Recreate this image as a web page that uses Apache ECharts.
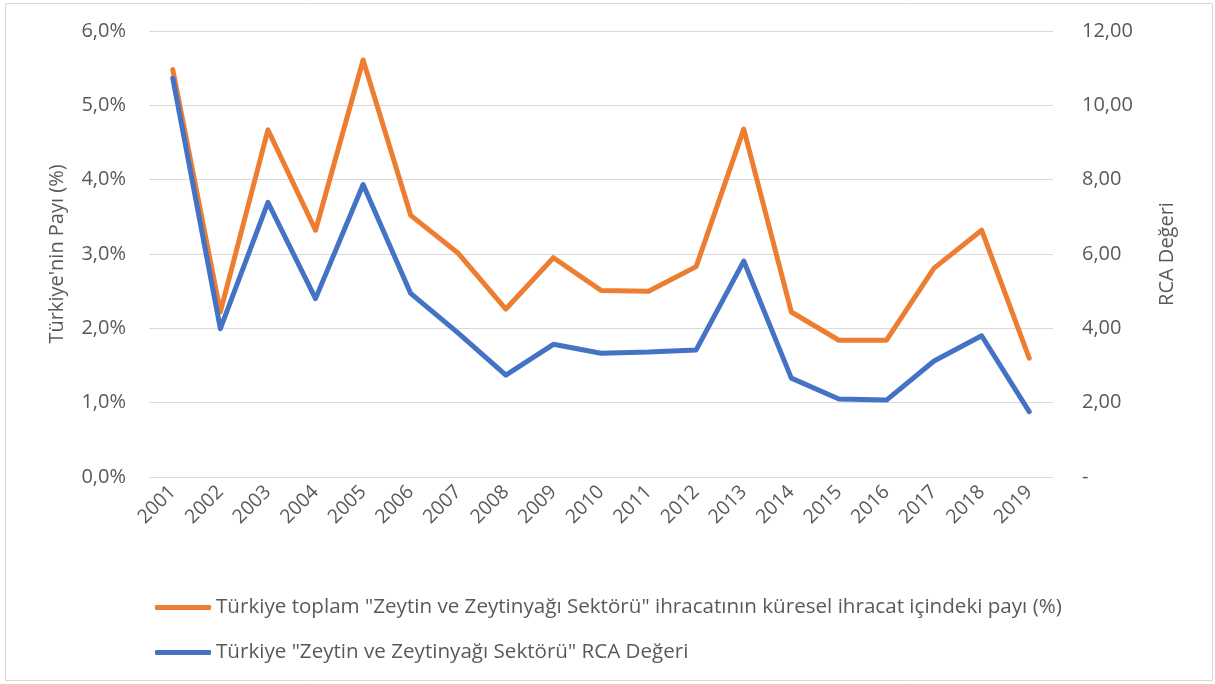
<!DOCTYPE html>
<html>
<head>
<meta charset="utf-8">
<script src="https://cdn.jsdelivr.net/npm/echarts@6/dist/echarts.min.js"></script>
<style>html,body{margin:0;padding:0;background:#fff}#c{width:1215px;height:684px}</style>
</head>
<body>
<div id="c"></div>
<script>
const years = ['2001','2002','2003','2004','2005','2006','2007','2008','2009','2010','2011','2012','2013','2014','2015','2016','2017','2018','2019'];
const sharePct = [5.48,2.22,4.67,3.32,5.61,3.52,3.01,2.26,2.95,2.51,2.50,2.83,4.68,2.22,1.84,1.84,2.81,3.32,1.60];
const rcaValue = [10.73,3.99,7.39,4.80,7.87,4.94,3.87,2.74,3.57,3.33,3.36,3.42,5.81,2.66,2.10,2.07,3.12,3.80,1.76];
const seriesNames = ['Türkiye toplam "Zeytin ve Zeytinyağı Sektörü" ihracatının küresel ihracat içindeki payı (%)', 'Türkiye "Zeytin ve Zeytinyağı Sektörü" RCA Değeri'];
const leftAxisName = "Türkiye'nin Payı (%)";
const rightAxisName = 'RCA Değeri';

const FONT = 'Open Sans';
const TXT = '#595959';
const chart = echarts.init(document.getElementById('c'), null, {renderer: 'canvas'});
chart.setOption({
  animation: false,
  textStyle: {fontFamily: FONT},
  graphic: [{type: 'rect', shape: {x: 5.5, y: 3.5, width: 1207, height: 677}, style: {fill: 'none', stroke: '#d9d9d9', lineWidth: 1}, silent: true}],
  grid: {left: 149, right: 162, top: 31, bottom: 207, containLabel: false},
  legend: {
    orient: 'vertical', left: 150, top: 592, itemGap: 24,
    itemWidth: 56, itemHeight: 5, icon: 'roundRect',
    textStyle: {fontSize: 20.6, color: TXT, fontFamily: FONT},
    data: seriesNames
  },
  xAxis: {
    type: 'category', data: years, boundaryGap: true,
    axisLine: {show: false}, axisTick: {show: false},
    axisLabel: {rotate: 45, fontSize: 19.5, color: TXT, margin: 12, interval: 0, fontFamily: FONT}
  },
  yAxis: [{
    type: 'value', min: 0, max: 6, interval: 1, position: 'left',
    name: leftAxisName, nameLocation: 'middle', nameGap: 82, nameRotate: 90,
    nameTextStyle: {fontSize: 20, color: TXT, fontFamily: FONT},
    axisLine: {show: false}, axisTick: {show: false},
    axisLabel: {fontSize: 20, color: TXT, margin: 23, fontFamily: FONT, formatter: v => v.toFixed(1).replace('.', ',') + '%'},
    splitLine: {lineStyle: {color: '#d9d9d9', width: 1}}
  }, {
    type: 'value', min: 0, max: 12, interval: 2, position: 'right',
    name: rightAxisName, nameLocation: 'middle', nameGap: 104, nameRotate: 90,
    nameTextStyle: {fontSize: 20, color: TXT, fontFamily: FONT},
    axisLine: {show: false}, axisTick: {show: false},
    axisLabel: {fontSize: 20, color: TXT, margin: 29, fontFamily: FONT, formatter: v => v === 0 ? '-' : v.toFixed(2).replace('.', ',')},
    splitLine: {show: false}
  }],
  series: [{
    name: seriesNames[0], type: 'line', yAxisIndex: 0, data: sharePct,
    showSymbol: false, symbol: 'none', lineStyle: {color: '#ED7D31', width: 5, join: 'round', cap: 'round'}, itemStyle: {color: '#ED7D31'}
  }, {
    name: seriesNames[1], type: 'line', yAxisIndex: 1, data: rcaValue,
    showSymbol: false, symbol: 'none', lineStyle: {color: '#4472C4', width: 5, join: 'round', cap: 'round'}, itemStyle: {color: '#4472C4'}
  }]
});
</script>
</body>
</html>
